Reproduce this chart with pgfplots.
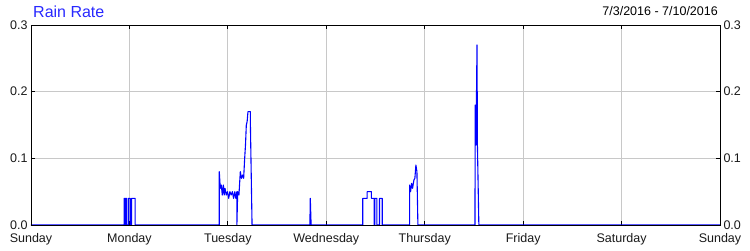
\documentclass[border=0pt]{standalone}
\usepackage{fontspec}
\setmainfont{Liberation Sans}
\usepackage{pgfplots}
\pgfplotsset{compat=1.18}
\definecolor{titleblue}{RGB}{40,40,255}
\definecolor{gridgray}{RGB}{200,200,200}
\begin{document}
\begin{tikzpicture}
\useasboundingbox (0,0) rectangle (750pt,250pt);
\pgfplotsset{
  common/.style={
    at={(31pt,25pt)}, anchor=south west,
    width=689pt, height=200pt, scale only axis,
    xmin=0, xmax=168, ymin=0, ymax=0.3,
    xtick={0,24,...,168},
    ytick={0,0.1,0.2,0.3},
    tick align=inside,
    major tick length=4pt,
    tick style={black, line width=0.8pt},
    axis line style={black, line width=0.8pt},
    /pgf/number format/assume math mode=true,
    ticklabel style={font=\fontsize{12.5}{14}\selectfont, text=black!90},
    xticklabel style={yshift=-5pt},
    yticklabel style={/pgf/number format/fixed, /pgf/number format/fixed zerofill, /pgf/number format/precision=1},
  }
}
\begin{axis}[common,
    xticklabels={Sunday,Monday,Tuesday,Wednesday,Thursday,Friday,Saturday,Sunday},
    xticklabel pos=left, yticklabel pos=left,
    grid=major, major grid style={gridgray, line width=0.8pt},
]
\addplot[blue, line width=1.1pt, line join=round] coordinates {
(0,0)
(22.7,0)(22.7,0.04)(22.85,0.04)(22.85,0)(23.0,0)(23.0,0.04)(23.3,0.04)(23.3,0)
(23.75,0)(23.75,0.04)(24.2,0.04)(24.2,0)(24.5,0)(24.5,0.04)(25.4,0.04)(25.4,0)
(45.9,0)(45.91,0.08)(46.15,0.055)(46.4,0.06)(46.64,0.045)(46.9,0.06)(47.1,0.045)
(47.3,0.055)(47.6,0.045)(47.9,0.05)(48.2,0.04)(48.5,0.05)(48.8,0.045)(49.1,0.05)
(49.4,0.04)(49.7,0.05)(49.95,0.04)(50.2,0.05)(50.2,0)(50.4,0.05)(50.7,0.045)
(51.04,0.08)(51.3,0.07)(51.6,0.075)(51.85,0.07)(52.1,0.1)(52.3,0.12)(52.5,0.15)
(52.7,0.155)(52.9,0.17)(53.2,0.17)(53.5,0.17)(53.5,0.15)(53.9,0)
(68.0,0)(68.1,0.04)(68.3,0)
(80.9,0)(80.9,0.04)(81.97,0.04)(81.97,0.05)(83.0,0.05)(83.0,0.04)(83.69,0.04)(83.69,0)
(83.85,0)(83.85,0.04)(84.33,0.04)(84.33,0)(84.98,0)(84.98,0.04)(85.64,0.04)(85.64,0)
(92.31,0)(92.31,0.06)(92.55,0.05)(92.8,0.0625)(93.04,0.055)(93.36,0.0675)(93.6,0.07)
(93.85,0.09)(94.1,0.08)(94.34,0)
(108.26,0)(108.3,0.18)(108.5,0.12)(108.75,0.27)(108.85,0.12)(109.2,0)
(168,0)
};
\end{axis}
\begin{axis}[common,
    xticklabels={}, xtick style={draw=none},
    yticklabel pos=right,
]
\end{axis}
\node[anchor=base west, inner sep=0pt, text=titleblue, font=\fontsize{16}{18}\selectfont] at (33pt,233pt) {Rain Rate};
\node[anchor=base east, inner sep=0pt, font=\fontsize{12.5}{14}\selectfont] at (718pt,235pt) {7/3/2016 - 7/10/2016};
\end{tikzpicture}
\end{document}
